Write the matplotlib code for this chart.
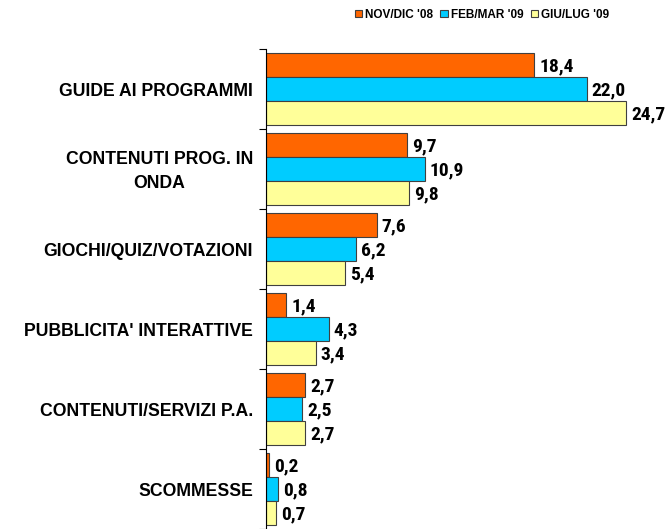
import matplotlib
matplotlib.use("Agg")
import matplotlib.pyplot as plt
import matplotlib.transforms as mtransforms
import numpy as np

plt.rcParams['font.family'] = ['Liberation Sans', 'DejaVu Sans']

categories = ["GUIDE AI PROGRAMMI", "CONTENUTI PROG. IN\nONDA", "GIOCHI/QUIZ/VOTAZIONI",
              "PUBBLICITA' INTERATTIVE", "CONTENUTI/SERVIZI P.A.", "SCOMMESSE"]
series_names = ["NOV/DIC '08", "FEB/MAR '09", "GIU/LUG '09"]
nov_dic_08 = [18.4, 9.7, 7.6, 1.4, 2.7, 0.2]
feb_mar_09 = [22.0, 10.9, 6.2, 4.3, 2.5, 0.8]
giu_lug_09 = [24.7, 9.8, 5.4, 3.4, 2.7, 0.7]
colors = ["#FF6600", "#00CCFF", "#FFFF99"]

W, H = 669, 529
PX = 14.57
fig = plt.figure(figsize=(W / 100, H / 100), dpi=100)
ax = fig.add_axes([266 / W, 0, (640 - 266) / W, 1 - 49 / H])

shift_val = ax.transData + mtransforms.ScaledTranslation(0, -1.5 / 100, fig.dpi_scale_trans)
shift_cat = ax.transData + mtransforms.ScaledTranslation(0, -2.5 / 100, fig.dpi_scale_trans)

n = len(categories)
y = np.arange(n)
h = 0.29
offsets = [-0.3, 0.0, 0.3]
bars = []
for vals, col, off, name in zip([nov_dic_08, feb_mar_09, giu_lug_09], colors, offsets, series_names):
    b = ax.barh(y + off, vals, height=h, color=col, edgecolor="#404040", linewidth=0.8, label=name)
    bars.append(b)
    for yi, v in zip(y + off, vals):
        ax.text(v + 5 / PX, yi, f"{v:.1f}".replace(".", ","), ha="left", va="center",
                fontsize=14, fontweight="bold", transform=shift_val,
                family=['Roboto Condensed', 'DejaVu Sans'], color="black")

ax.set_xlim(0, (640 - 266) / PX)
ax.set_ylim(n - 0.5, -0.5)
ax.set_xticks([])
for s in ["top", "right", "bottom"]:
    ax.spines[s].set_visible(False)
ax.spines["left"].set_color("black")
ax.spines["left"].set_linewidth(0.8)

ax.set_yticks(y)
ax.set_yticklabels([])
ax.tick_params(axis="y", which="major", length=0)
ax.set_yticks(np.arange(n + 1) - 0.5, minor=True)
ax.tick_params(axis="y", which="minor", length=5, width=0.8, direction="out")

for yi, cat in zip(y, categories):
    ax.text(-13 / PX, yi, cat, ha="right", va="center", multialignment="center",
            fontsize=12.7, fontweight="bold", linespacing=1.5, transform=shift_cat)

leg = fig.legend(handles=bars, labels=series_names, loc="upper left", bbox_to_anchor=(350 / W, 1 - 4 / H),
                 ncol=3, frameon=False, prop={"weight": "bold", "size": 8.5},
                 handlelength=0.6, handleheight=0.6, handletextpad=0.3, columnspacing=0.6,
                 borderaxespad=0)

fig.savefig("out.png", dpi=100)
